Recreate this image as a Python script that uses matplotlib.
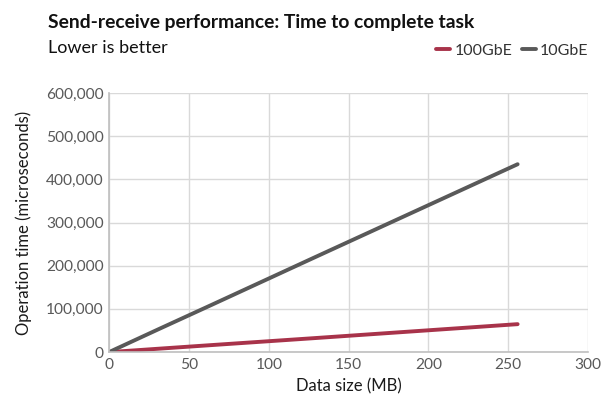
import matplotlib
matplotlib.use("Agg")
import matplotlib.pyplot as plt
from matplotlib.ticker import FuncFormatter

sizes_mb = [1, 2, 4, 8, 16, 32, 64, 128, 256]
time_100gbe = [250, 450, 900, 1800, 3800, 7900, 16000, 32000, 64500]
time_10gbe = [1800, 3500, 7000, 13800, 27500, 54800, 109000, 218000, 435000]
series_names = ["100GbE", "10GbE"]
colors = ["#a8334a", "#595959"]

plt.rcParams['font.family'] = ['Lato', 'DejaVu Sans']

fig = plt.figure(figsize=(6.01, 4.0), dpi=100)
ax = fig.add_axes([0.182, 0.12, 0.796, 0.6475])

ax.plot(sizes_mb, time_100gbe, color=colors[0], lw=2.8, label=series_names[0], solid_capstyle='round')
ax.plot(sizes_mb, time_10gbe, color=colors[1], lw=2.8, label=series_names[1], solid_capstyle='round')

ax.set_xlim(0, 300)
ax.set_ylim(0, 600000)
ax.set_xticks(range(0, 301, 50))
ax.set_yticks(range(0, 600001, 100000))
ax.yaxis.set_major_formatter(FuncFormatter(lambda v, p: f"{int(v):,}"))
ax.grid(True, color="#d9d9d9", lw=1)
ax.set_axisbelow(True)
for s in ["top", "right"]:
    ax.spines[s].set_visible(False)
for s in ["left", "bottom"]:
    ax.spines[s].set_color("#bfbfbf")
    ax.spines[s].set_linewidth(1.2)
ax.tick_params(length=0, labelsize=11.2, labelcolor="#595959", pad=4)
ax.set_xlabel("Data size (MB)", fontsize=12, color="#1a1a1a", labelpad=5)
ax.set_ylabel("Operation time (microseconds)", fontsize=12, color="#1a1a1a", labelpad=10)

fig.text(0.08, 0.93, "Send-receive performance: Time to complete task", fontsize=13.9,
         fontweight='bold', color="#111111", va='baseline')
fig.text(0.08, 0.868, "Lower is better", fontsize=13, color="#111111", va='baseline')

leg = fig.legend(loc='center right', bbox_to_anchor=(0.99, 0.873), ncol=2, frameon=False,
                 fontsize=11.5, handlelength=0.9, handletextpad=0.25, columnspacing=0.6,
                 borderaxespad=0)
for t in leg.get_texts():
    t.set_color("#333333")

fig.savefig("out.png", dpi=100)
